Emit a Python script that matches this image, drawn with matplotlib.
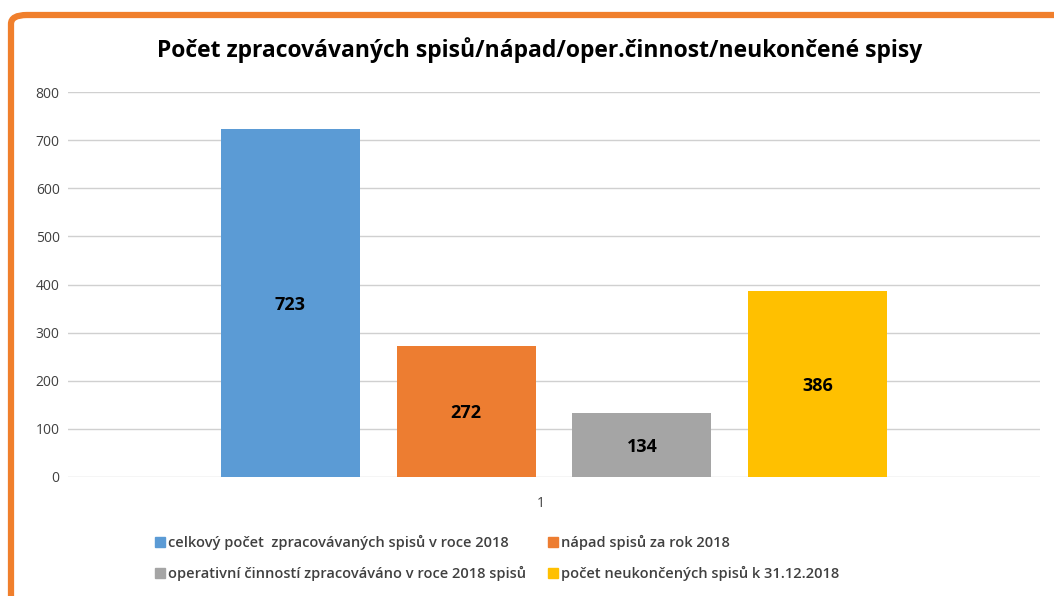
import matplotlib
matplotlib.use("Agg")
import matplotlib.pyplot as plt
from matplotlib.patches import FancyBboxPatch
from matplotlib.lines import Line2D

series = ["celkový počet  zpracovávaných spisů v roce 2018",
          "nápad spisů za rok 2018",
          "operativní činností zpracováváno v roce 2018 spisů",
          "počet neukončených spisů k 31.12.2018"]
values = [723, 272, 134, 386]
colors = ["#5B9BD5", "#ED7D31", "#A5A5A5", "#FFC000"]
category = "1"
yticks = [0, 100, 200, 300, 400, 500, 600, 700, 800]
title = "Počet zpracovávaných spisů/nápad/oper.činnost/neukončené spisy"

W, H = 1054, 596
fig = plt.figure(figsize=(W / 100, H / 100), dpi=100)
fig.patch.set_facecolor("white")

# orange frame
frame = FancyBboxPatch((11 / W, -0.2), 1.2, 1 - 15 / H + 0.2,
                       boxstyle="round,pad=0,rounding_size=0.015",
                       transform=fig.transFigure, facecolor="none",
                       edgecolor="#F07F2C", linewidth=4.5, zorder=-1)
fig.patches.append(frame)

left, right = 68 / W, 1040 / W
bottom, top = 1 - 477 / H, 1 - 92 / H
ax = fig.add_axes([left, bottom, right - left, top - bottom])
ax.set_facecolor("none")

step = 0.181
bw = 0.143
for i, (v, c) in enumerate(zip(values, colors)):
    x = (i - 1.5) * step
    ax.bar(x, v, width=bw, color=c, zorder=3)
    ax.text(x, v / 2 - 4, str(v), ha="center", va="center", fontsize=13,
            fontweight="bold", color="black", family="Open Sans", zorder=4)

ax.set_xlim(-0.5, 0.5)
ax.set_ylim(0, 800)
ax.set_yticks(yticks)
ax.set_yticklabels([str(t) for t in yticks], family="Open Sans", fontsize=10, color="#404040")
ax.set_xticks([-0.014])
ax.set_xticklabels([category], family="Open Sans", fontsize=10, color="#404040")
ax.tick_params(axis="both", length=0)
ax.tick_params(axis="y", pad=6)
ax.tick_params(axis="x", pad=14)
ax.grid(axis="y", color="#D0D0D0", linewidth=1, zorder=0)
for s in ax.spines.values():
    s.set_visible(False)

fig.text(540 / W, 1 - 50 / H, title, ha="center", va="center",
         fontsize=16.5, fontweight="bold", family="Open Sans", color="black")

order = [0, 2, 1, 3]
handles = [Line2D([0], [0], marker="s", linestyle="none", markersize=7,
                  markerfacecolor=colors[k], markeredgecolor=colors[k]) for k in order]
labels = [series[k] for k in order]
leg = fig.legend(handles, labels, ncol=2, loc="center left",
                 bbox_to_anchor=(140 / W, 1 - 558 / H), frameon=False,
                 prop={"family": "Open Sans", "size": 10.5, "weight": "semibold"},
                 handletextpad=0.0, columnspacing=1.4, labelspacing=1.1,
                 handlelength=1.0)
for t in leg.get_texts():
    t.set_color("#404040")

fig.savefig("out.png", dpi=100, facecolor="white")
